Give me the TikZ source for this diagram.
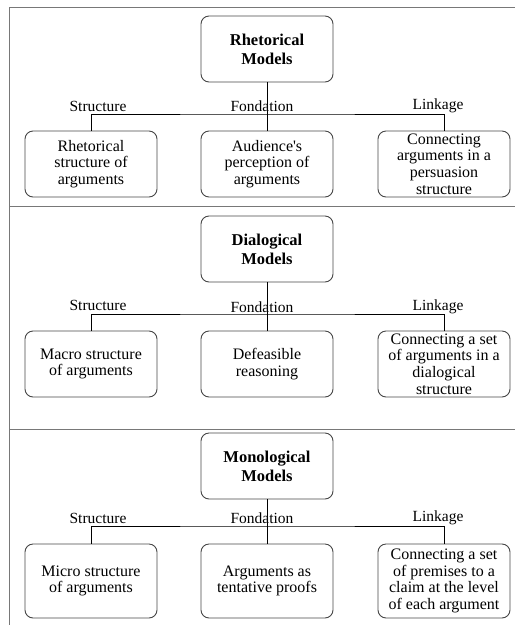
\documentclass[tikz,border=0pt]{standalone}
\usepackage{fontspec}
\setmainfont{Liberation Serif}[Ligatures=TeXOff]
\definecolor{framegray}{RGB}{120,120,120}
\definecolor{boxgray}{RGB}{70,70,70}

\begin{document}
\begin{tikzpicture}[x=1pt, y=-1pt,
    model/.style={rectangle, rounded corners=8pt, draw=boxgray, line width=0.9pt, minimum width=132pt, minimum height=66pt, align=center, inner sep=2pt, font=\fontsize{16.5}{19}\selectfont\bfseries},
    leaf/.style={rectangle, rounded corners=8pt, draw=boxgray, line width=0.9pt, minimum width=132pt, minimum height=66pt, align=center, inner sep=0pt, font=\fontsize{16}{16.6}\selectfont},
    tag/.style={inner sep=0pt, font=\fontsize{15.5}{17}\selectfont},
    link/.style={draw=black, line width=0.8pt}]
    \useasboundingbox (0,0) rectangle (515,625);

    % Frame and separators
    \draw[framegray, line width=0.9pt] (515,7) -- (9,7) -- (9,625);
    \draw[framegray, line width=0.9pt] (9,206) -- (515,206);
    \draw[framegray, line width=0.9pt] (9,429) -- (515,429);

    % Rhetorical models
    \node[model] (rhetorical) at (267,49) {Rhetorical\\Models};
    \node[leaf] (rhetStructure) at (91,164) {Rhetorical\\structure of\\arguments};
    \node[leaf] (rhetFondation) at (267,164) {Audience's\\perception of\\arguments};
    \node[leaf] (rhetLinkage) at (444,164) {Connecting\\arguments in a\\persuasion\\structure};
    \node[tag] (rhetStructureTag) at (98,106) {Structure};
    \node[tag] (rhetFondationTag) at (262,106) {Fondation};
    \node[tag] (rhetLinkageTag) at (438,106) {Linkage};
    \coordinate (rhetBus) at (267,114);
    \draw[link] (rhetorical) -- (rhetFondation);
    \draw[link] (rhetStructure.north) |- (rhetBus) -| (rhetLinkage.north);

    % Dialogical models
    \node[model] (dialogical) at (267,249) {Dialogical\\Models};
    \node[leaf] (dialStructure) at (91,364) {Macro structure\\of arguments};
    \node[leaf] (dialFondation) at (267,364) {Defeasible\\reasoning};
    \node[leaf] (dialLinkage) at (444,364) {Connecting a set\\of arguments in a\\dialogical\\structure};
    \node[tag] (dialStructureTag) at (98,305) {Structure};
    \node[tag] (dialFondationTag) at (262,307) {Fondation};
    \node[tag] (dialLinkageTag) at (438,307) {Linkage};
    \coordinate (dialBus) at (267,314);
    \draw[link] (dialogical) -- (dialFondation);
    \draw[link] (dialStructure.north) |- (dialBus) -| (dialLinkage.north);

    % Monological models
    \node[model] (monological) at (267,466) {Monological\\Models};
    \node[leaf, minimum height=74pt] (monoStructure) at (91,581) {Micro structure\\of arguments};
    \node[leaf, minimum height=74pt] (monoFondation) at (267,581) {Arguments as\\tentative proofs};
    \node[leaf, minimum height=74pt] (monoLinkage) at (444,581) {Connecting a set\\of premises to a\\claim at the level\\of each argument};
    \node[tag] (monoStructureTag) at (98,518) {Structure};
    \node[tag] (monoFondationTag) at (262,518) {Fondation};
    \node[tag] (monoLinkageTag) at (438,518) {Linkage};
    \coordinate (monoBus) at (267,526);
    \draw[link] (monological) -- (monoFondation);
    \draw[link] (monoStructure.north) |- (monoBus) -| (monoLinkage.north);
\end{tikzpicture}
\end{document}
